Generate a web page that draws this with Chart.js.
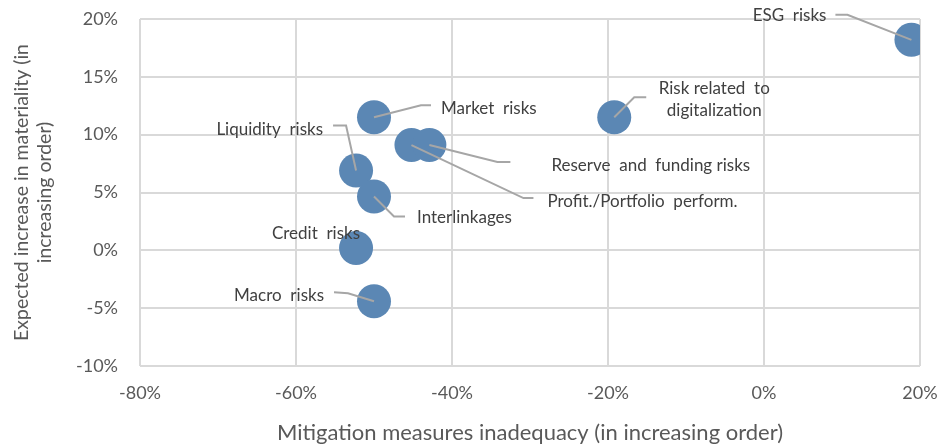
<!DOCTYPE html>
<html>
<head>
<meta charset="utf-8">
<script src="https://cdn.jsdelivr.net/npm/chart.js@4"></script>
<style>
  html, body { margin: 0; padding: 0; background: #fff; }
  #wrap { width: 941px; height: 448px; }
</style>
</head>
<body>
<div id="wrap"><canvas id="riskChart" width="941" height="448"></canvas></div>
<script>
// Risk categories and their scores (percent)
const riskNames = [
  'ESG risks',
  'Risk related to digitalization',
  'Market risks',
  'Liquidity risks',
  'Profit./Portfolio perform.',
  'Reserve and funding risks',
  'Interlinkages',
  'Credit risks',
  'Macro risks',
];
const mitigationInadequacy = [18.9, -19.2, -50.0, -52.3, -45.2, -42.9, -50.0, -52.3, -50.0];
const materialityIncrease = [18.2, 11.5, 11.5, 6.9, 9.1, 9.1, 4.65, 0.2, -4.4];

const xTicks = [-80, -60, -40, -20, 0, 20];
const yTicks = [-10, -5, 0, 5, 10, 15, 20];

// Label placement, in pixels relative to each bubble centre:
// line = leader polyline points, text = anchor, align = textAlign
const labelLayout = [
  { line: [[-64, -25], [-76, -25]], text: [-85, -24], align: 'right', lines: ['ESG  risks'] },
  { line: [[20, -20], [32, -20]], text: [100, -29], align: 'center', lines: ['Risk related  to', 'digitalization'] },
  { line: [[47, -12], [57, -12]], text: [67, -9], align: 'left', lines: ['Market  risks'] },
  { line: [[-10, -45], [-23, -45]], text: [-33, -41], align: 'right', lines: ['Liquidity  risks'] },
  { line: [[112, 53], [122, 53]], text: [136, 56], align: 'left', lines: ['Profit./Portfolio  perform.'] },
  { line: [[68, 17], [81, 17]], text: [122, 20], align: 'left', lines: ['Reserve  and  funding risks'] },
  { line: [[20, 20], [31, 20]], text: [43, 21], align: 'left', lines: ['Interlinkages'] },
  { line: null, text: [4, -15], align: 'right', lines: ['Credit  risks'] },
  { line: [[-26, -8], [-40, -9]], text: [-50, -6], align: 'right', lines: ['Macro  risks'] },
];

Chart.defaults.font.family = 'Lato, "Open Sans", sans-serif';
Chart.defaults.color = '#595959';

const leaderLabels = {
  id: 'leaderLabels',
  afterDatasetsDraw(chart) {
    const ctx = chart.ctx;
    const meta = chart.getDatasetMeta(0);
    ctx.save();
    meta.data.forEach((pt, i) => {
      const cfg = labelLayout[i];
      if (!cfg) return;
      const cx = pt.x, cy = pt.y;
      if (cfg.line) {
        ctx.beginPath();
        ctx.moveTo(cx, cy);
        cfg.line.forEach(([dx, dy]) => ctx.lineTo(cx + dx, cy + dy));
        ctx.strokeStyle = '#a6a6a6';
        ctx.lineWidth = 2;
        ctx.stroke();
      }
      ctx.fillStyle = '#404040';
      ctx.font = '17px Lato, "Open Sans", sans-serif';
      ctx.textAlign = cfg.align;
      ctx.textBaseline = 'middle';
      cfg.lines.forEach((s, k) => {
        ctx.fillText(s, cx + cfg.text[0], cy + cfg.text[1] + k * 22);
      });
    });
    ctx.restore();
  },
};

const pct = (v) => `${v}%`;

// keep the plot box exactly where layout.padding puts it
const fixX = (scale) => { scale.height = 82; scale.paddingLeft = 0; scale.paddingRight = 0; };
const fixY = (scale) => { scale.width = 140; scale.paddingTop = 0; scale.paddingBottom = 0; };

new Chart(document.getElementById('riskChart'), {
  type: 'scatter',
  data: {
    labels: riskNames,
    datasets: [{
      data: mitigationInadequacy.map((x, i) => ({ x, y: materialityIncrease[i] })),
      backgroundColor: '#5b87b4',
      borderWidth: 0,
      pointRadius: 17,
      pointHoverRadius: 17,
    }],
  },
  options: {
    responsive: false,
    devicePixelRatio: 1,
    animation: false,
    layout: { padding: { top: 19, right: 21, left: 0, bottom: 0 } },
    plugins: {
      legend: { display: false },
      tooltip: { enabled: false },
    },
    scales: {
      x: {
        type: 'linear',
        min: xTicks[0],
        max: xTicks[xTicks.length - 1],
        afterBuildTicks: (scale) => { scale.ticks = xTicks.map((v) => ({ value: v })); },
        afterFit: fixX,
        ticks: { callback: pct, padding: 16, font: { size: 18 }, color: '#595959', maxRotation: 0 },
        grid: { color: '#d9d9d9', lineWidth: 2, drawTicks: false },
        border: { display: false },
        title: {
          display: true,
          text: 'Mitigation measures inadequacy (in increasing order)',
          font: { size: 22 },
          color: '#595959',
          padding: { top: 8, bottom: 2 },
        },
      },
      y: {
        type: 'linear',
        min: yTicks[0],
        max: yTicks[yTicks.length - 1],
        afterBuildTicks: (scale) => { scale.ticks = yTicks.map((v) => ({ value: v })); },
        afterFit: fixY,
        ticks: { callback: pct, padding: 22, font: { size: 18 }, color: '#595959' },
        grid: { color: '#d9d9d9', lineWidth: 2, drawTicks: false },
        border: { display: false },
        title: {
          display: true,
          text: ['Expected increase in materiality (in', 'increasing order)'],
          font: { size: 19.5, lineHeight: 1.15 },
          color: '#595959',
          padding: { top: 11, bottom: 0 },
        },
      },
    },
  },
  plugins: [leaderLabels],
});
</script>
</body>
</html>
